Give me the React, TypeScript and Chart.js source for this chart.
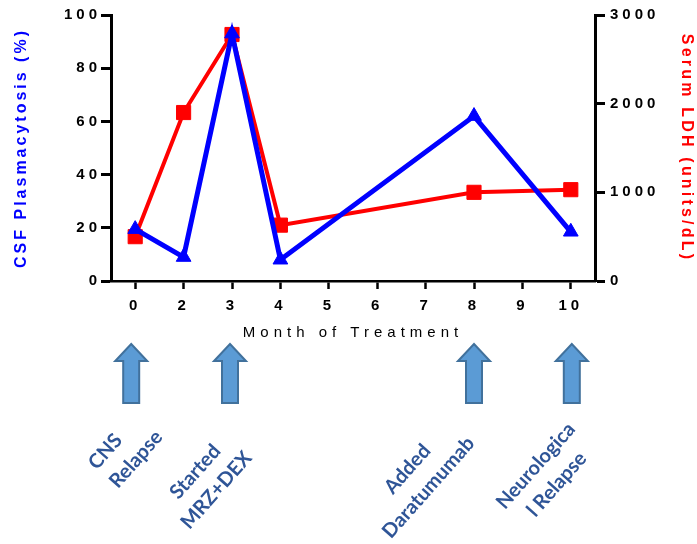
import React, { useEffect, useRef } from "react";
import { Chart, registerables } from "chart.js";

Chart.register(...registerables);

// ---- Data ----
const months = ["0", "2", "3", "4", "5", "6", "7", "8", "9", "10"];
const csfPlasmacytosis = [19.5, 9, 93, 8, null, null, null, 62, null, 18.5];
const serumLDH = [500, 1900, 2780, 630, null, null, null, 1000, null, 1030];

const leftAxis = { min: 0, max: 100, step: 20 };
const rightAxis = { min: 0, max: 3000, step: 1000 };

const eventMonths = ["0", "3", "8", "10"];
const eventLabels = [
  ["CNS", "Relapse"],
  ["Started", "MRZ+DEX"],
  ["Added", "Daratumumab"],
  ["Neurologica", "l Relapse"],
];

// ---- Layout / style constants ----
const FAMILY = '"Liberation Sans", Arial, sans-serif';
const eventTextAlign: CanvasTextAlign[] = ["left", "center", "center", "center"];
const eventTextOffset = [
  [-43, 466.5],
  [-36.7, 471.7],
  [-66.5, 469],
  [-35, 465.8],
];
const arrowNudge = [-4, -2, 0, 1];

const spacing: Record<string, { ticks: string; title: string }> = {
  x: { ticks: "4px", title: "5px" },
  y: { ticks: "4px", title: "3px" },
  y1: { ticks: "4px", title: "3.2px" },
};

const spacingPlugin = {
  id: "letterSpacing",
  beforeDraw(chart: any) {
    Object.keys(chart.scales).forEach((id) => {
      const s: any = chart.scales[id];
      if (s.__spaced || !spacing[id]) return;
      s.__spaced = true;
      const dl = s.drawLabels.bind(s);
      const dt = s.drawTitle.bind(s);
      s.drawLabels = (area: any) => {
        const ctx: any = s.ctx;
        ctx.save();
        ctx.letterSpacing = spacing[id].ticks;
        dl(area);
        ctx.restore();
      };
      s.drawTitle = () => {
        const ctx: any = s.ctx;
        ctx.save();
        ctx.letterSpacing = spacing[id].title;
        dt();
        ctx.restore();
      };
    });
  },
};

const eventPlugin = {
  id: "events",
  afterDraw(chart: any) {
    const ctx: any = chart.ctx;
    const xs = chart.scales.x;
    ctx.save();
    ctx.letterSpacing = "0px";
    eventMonths.forEach((m, i) => {
      const tick = xs.getPixelForValue(months.indexOf(m));
      const px = tick + arrowNudge[i];
      const tipY = 344, headY = 361, baseY = 403, headHalf = 16, shaftHalf = 8;
      ctx.beginPath();
      ctx.moveTo(px, tipY);
      ctx.lineTo(px + headHalf, headY);
      ctx.lineTo(px + shaftHalf, headY);
      ctx.lineTo(px + shaftHalf, baseY);
      ctx.lineTo(px - shaftHalf, baseY);
      ctx.lineTo(px - shaftHalf, headY);
      ctx.lineTo(px - headHalf, headY);
      ctx.closePath();
      ctx.fillStyle = "#5B9BD5";
      ctx.fill();
      ctx.strokeStyle = "#41719C";
      ctx.lineWidth = 2;
      ctx.stroke();

      const [dx, ty] = eventTextOffset[i];
      ctx.save();
      ctx.translate(tick + dx, ty);
      ctx.rotate((-48.5 * Math.PI) / 180);
      ctx.font = "bold 20px Lato, Carlito, sans-serif";
      ctx.fillStyle = "#2F5597";
      ctx.textAlign = eventTextAlign[i];
      ctx.textBaseline = "middle";
      eventLabels[i].forEach((line, j) => ctx.fillText(line, 0, j * 28));
      ctx.restore();
    });
    ctx.restore();
  },
};

const plainNumber = (v: any) => String(v);

export default function App() {
  const ref = useRef<HTMLCanvasElement | null>(null);

  useEffect(() => {
    if (!ref.current) return;
    const tickFont = { family: FAMILY, size: 15, weight: "bold" as const };
    const chart = new Chart(ref.current, {
      type: "line",
      data: {
        labels: months,
        datasets: [
          {
            label: "CSF Plasmacytosis (%)",
            data: csfPlasmacytosis,
            yAxisID: "y",
            borderColor: "#0000FF",
            backgroundColor: "#0000FF",
            borderWidth: 5,
            pointStyle: "triangle",
            pointRadius: 8.5,
            pointBorderWidth: 1,
            pointBorderColor: "#0000FF",
            pointBackgroundColor: "#0000FF",
            spanGaps: true,
            tension: 0,
            clip: false as any,
          },
          {
            label: "Serum LDH (units/dL)",
            data: serumLDH,
            yAxisID: "y1",
            borderColor: "#FF0000",
            backgroundColor: "#FF0000",
            borderWidth: 4,
            pointStyle: "rect",
            pointRadius: 10,
            pointBorderWidth: 1,
            pointBorderColor: "#FF0000",
            pointBackgroundColor: "#FF0000",
            spanGaps: true,
            tension: 0,
            clip: false as any,
          },
        ],
      },
      options: {
        animation: false,
        responsive: false,
        events: [],
        layout: { padding: { top: 15, left: 0, right: 0, bottom: 0 } },
        plugins: {
          legend: { display: false },
          tooltip: { enabled: false },
        },
        scales: {
          x: {
            type: "category",
            offset: true,
            grid: {
              display: true,
              drawOnChartArea: false,
              drawTicks: true,
              tickLength: 8,
              tickWidth: 2.5,
              tickColor: "#000",
              offset: false,
            },
            border: { display: true, color: "#000", width: 2.5 },
            ticks: { color: "#000", font: tickFont, padding: 8, maxRotation: 0, autoSkip: false },
            title: {
              display: true,
              text: "Month of Treatment",
              color: "#000",
              font: { family: FAMILY, size: 15, weight: "normal" },
              padding: { top: 0, bottom: 202 },
            },
            afterFit(s: any) {
              s.height = 263;
            },
          },
          y: {
            type: "linear",
            position: "left",
            min: leftAxis.min,
            max: leftAxis.max,
            ticks: { stepSize: leftAxis.step, color: "#000", font: tickFont, padding: 0, callback: plainNumber },
            grid: { drawOnChartArea: false, tickLength: 10, tickWidth: 3, tickColor: "#000" },
            border: { display: true, color: "#000", width: 3 },
            title: {
              display: true,
              text: "CSF Plasmacytosis (%)",
              color: "#0000FF",
              font: { family: FAMILY, size: 16, weight: "bold" },
              padding: { top: 12, bottom: 0 },
            },
            afterFit(s: any) {
              s.width = 111;
            },
          },
          y1: {
            type: "linear",
            position: "right",
            min: rightAxis.min,
            max: rightAxis.max,
            ticks: { stepSize: rightAxis.step, color: "#000", font: tickFont, padding: 5, callback: plainNumber },
            grid: { drawOnChartArea: false, tickLength: 10, tickWidth: 3, tickColor: "#000" },
            border: { display: true, color: "#000", width: 3 },
            title: {
              display: true,
              text: "Serum LDH (units/dL)",
              color: "#FF0000",
              font: { family: FAMILY, size: 16, weight: "bold" },
              padding: { top: 1, bottom: 0 },
            },
            afterFit(s: any) {
              s.width = 102;
            },
          },
        },
      } as any,
      plugins: [spacingPlugin, eventPlugin],
    });
    return () => chart.destroy();
  }, []);

  return (
    <div style={{ position: "absolute", left: 0, top: 0, width: 697, height: 544, background: "#fff" }}>
      <canvas ref={ref} width={697} height={544} style={{ display: "block" }} />
    </div>
  );
}
